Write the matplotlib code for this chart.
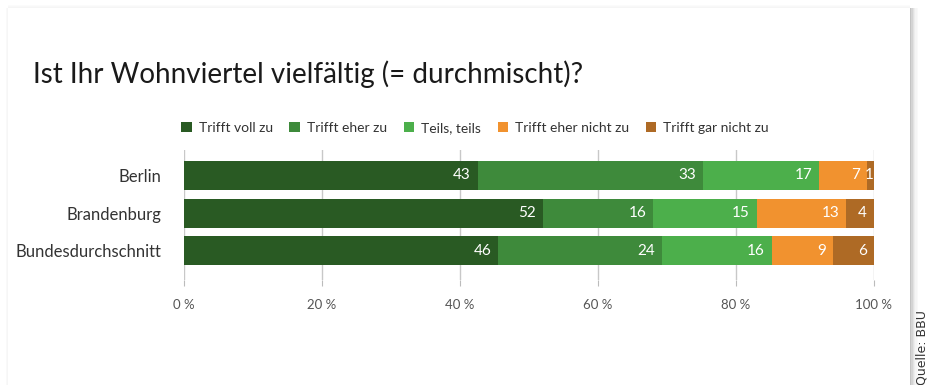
import matplotlib
matplotlib.use("Agg")
import matplotlib.pyplot as plt
from matplotlib.patches import Rectangle
import numpy as np

plt.rcParams['font.family'] = ['Lato', 'DejaVu Sans']

categories = ["Berlin", "Brandenburg", "Bundesdurchschnitt"]
series_names = ["Trifft voll zu", "Trifft eher zu", "Teils, teils",
                "Trifft eher nicht zu", "Trifft gar nicht zu"]
voll_zu = [43, 52, 46]
eher_zu = [33, 16, 24]
teils = [17, 15, 16]
eher_nicht = [7, 13, 9]
gar_nicht = [1, 4, 6]
colors = ["#295a23", "#3e8a3b", "#4caf4b", "#f1922f", "#ae6a25"]
xticks = [0, 20, 40, 60, 80, 100]
xtick_labels = ["0 %", "20 %", "40 %", "60 %", "80 %", "100 %"]

W, H = 928, 385
fig = plt.figure(figsize=(W / 100, H / 100), dpi=100)
fig.patch.set_facecolor("white")

# card shadow on the right edge
for i, a in enumerate([0.35, 0.25, 0.17, 0.1, 0.06, 0.03]):
    fig.patches.append(Rectangle((910 / W + i / W * 1.3, 0), 1.4 / W, 1 - 8 / H,
                                 transform=fig.transFigure, color="#555555",
                                 alpha=a, lw=0, zorder=0))
for i, a in enumerate([0.06, 0.04, 0.02]):
    fig.patches.append(Rectangle((8 / W, 1 - (8 - i) / H), 902 / W, 1 / H,
                                 transform=fig.transFigure, color="#555555",
                                 alpha=a, lw=0, zorder=0))
for i, a in enumerate([0.05, 0.03]):
    fig.patches.append(Rectangle(((7 - i) / W, 0), 1 / W, 1 - 8 / H,
                                 transform=fig.transFigure, color="#555555",
                                 alpha=a, lw=0, zorder=0))

ax = fig.add_axes([184 / W, 1 - 280 / H, (874 - 184) / W, 130 / H])
data = np.array([voll_zu, eher_zu, teils, eher_nicht, gar_nicht], dtype=float)
totals = data.sum(axis=0)
shares = data / totals * 100
y = np.arange(len(categories))
left = np.zeros(len(categories))
for k in range(len(series_names)):
    ax.barh(y, shares[k], left=left, height=0.77, color=colors[k],
            label=series_names[k], zorder=2)
    for j in range(len(categories)):
        if shares[k][j] < 3:
            ax.text(left[j] + shares[k][j] / 2 - 0.2, y[j], f"{int(data[k][j])}",
                    ha="center", va="center", color="white", fontsize=11,
                    zorder=3)
        else:
            ax.text(left[j] + shares[k][j] - 1.0, y[j], f"{int(data[k][j])}",
                    ha="right", va="center", color="white", fontsize=11,
                    zorder=3)
    left += shares[k]

ax.set_xlim(0, 100)
ax.set_ylim(2.77, -0.675)
ax.set_xticks(xticks)
ax.set_xticklabels(xtick_labels, color="#555555", fontsize=9.5)
ax.set_yticks(y)
ax.set_yticklabels(categories, color="#333333", fontsize=12)
ax.tick_params(axis="y", length=0, pad=16)
ax.tick_params(axis="x", length=4, color="#bbbbbb", pad=10)
ax.xaxis.grid(True, color="#c8c8c8", lw=1, zorder=0)
ax.set_axisbelow(True)
for s in ax.spines.values():
    s.set_visible(False)

fig.text(33 / W, 1 - 74 / H, "Ist Ihr Wohnviertel vielfältig (= durchmischt)?",
         fontsize=20, color="#1a1a1a", ha="left", va="center")

leg = fig.legend(loc="center", bbox_to_anchor=(475 / W, 1 - 128 / H), ncol=5,
                 frameon=False, fontsize=10, handlelength=0.75, handleheight=0.75,
                 handletextpad=0.5, columnspacing=1.2)
for t in leg.get_texts():
    t.set_color("#333333")

fig.text(922 / W, 1 - 385 / H, "Quelle: BBU", rotation=90, fontsize=9,
         color="#333333", ha="center", va="bottom", family=["DejaVu Sans"])

fig.savefig("out.png", dpi=100)
